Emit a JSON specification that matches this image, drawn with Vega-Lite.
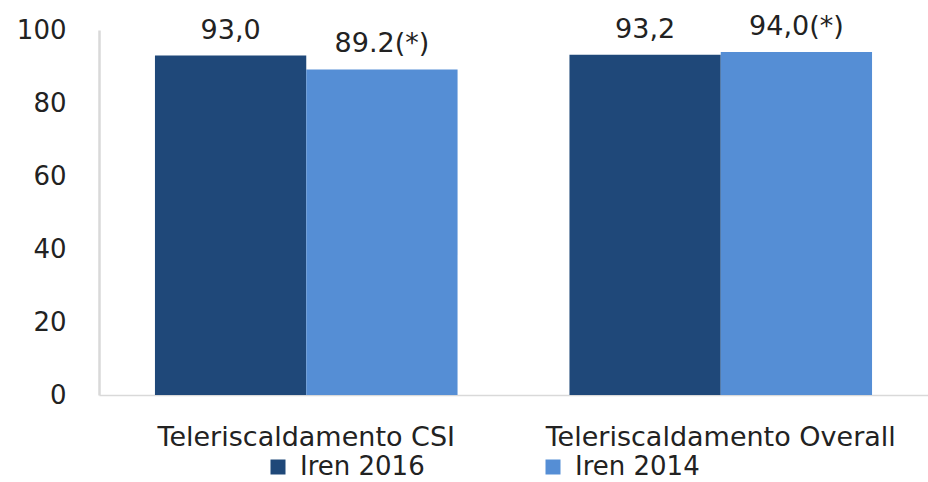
{
  "$schema": "https://vega.github.io/schema/vega-lite/v6.json",
  "autosize": "none",
  "width": 829,
  "height": 365,
  "padding": {"left": 99, "top": 30, "right": 0, "bottom": 87},
  "background": "white",
  "config": {
    "view": {"stroke": null},
    "font": "DejaVu Sans"
  },
  "data": {
    "values": [
      {"categoria": "Teleriscaldamento CSI", "serie": "Iren 2016", "valore": 93.0, "etichetta": "93,0"},
      {"categoria": "Teleriscaldamento CSI", "serie": "Iren 2014", "valore": 89.2, "etichetta": "89.2(*)"},
      {"categoria": "Teleriscaldamento Overall", "serie": "Iren 2016", "valore": 93.2, "etichetta": "93,2"},
      {"categoria": "Teleriscaldamento Overall", "serie": "Iren 2014", "valore": 94.0, "etichetta": "94,0(*)"}
    ]
  },
  "encoding": {
    "x": {
      "field": "categoria", "type": "nominal", "title": null,
      "scale": {"paddingInner": 0.27, "paddingOuter": 0.135},
      "axis": {"labelAngle": 0, "labelFontSize": 27, "labelColor": "#222222", "labelPadding": 29, "labelLimit": 0, "ticks": false, "domainColor": "#d9d9d9", "domainWidth": 1.5}
    },
    "xOffset": {"field": "serie", "type": "nominal", "sort": ["Iren 2016", "Iren 2014"]},
    "y": {
      "field": "valore", "type": "quantitative", "title": null,
      "scale": {"domain": [0, 100]},
      "axis": {"values": [0, 20, 40, 60, 80, 100], "grid": false, "ticks": false, "labelFontSize": 26, "labelColor": "#222222", "labelPadding": 33, "domainColor": "#d9d9d9", "domainWidth": 2.5}
    }
  },
  "layer": [
    {
      "mark": {"type": "bar"},
      "encoding": {
        "color": {
          "field": "serie", "type": "nominal",
          "scale": {"domain": ["Iren 2016", "Iren 2014"], "range": ["#1f4879", "#558ed5"]},
          "legend": {
            "title": null, "orient": "none", "direction": "horizontal",
            "legendX": 166, "legendY": 424,
            "symbolType": "square", "symbolSize": 225, "symbolStrokeWidth": 0,
            "labelFontSize": 26, "labelColor": "#222222", "columnPadding": 115, "labelOffset": 9, "labelLimit": 0
          }
        }
      }
    },
    {
      "mark": {"type": "text", "baseline": "bottom", "dy": -11, "fontSize": 27, "color": "#222222"},
      "encoding": {"text": {"field": "etichetta"}}
    }
  ]
}
